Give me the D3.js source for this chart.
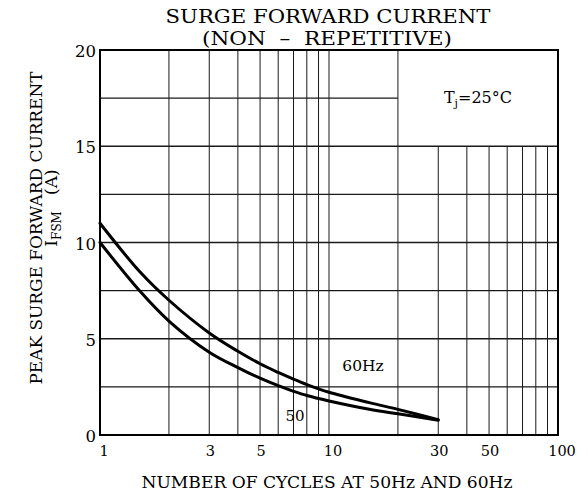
<!DOCTYPE html>
<html><head><meta charset="utf-8">
<script src="https://cdn.jsdelivr.net/npm/d3@7"></script>
<style>
body{margin:0;background:#fff}
text{font-family:"DejaVu Serif",serif;fill:#000}
</style>
</head><body><svg id="c" width="588" height="499"></svg>
<script>
// ---- data ----
const cycles      = [1, 1.5, 2, 3, 4, 5, 6, 7, 8, 10, 15, 20, 30];
const current60Hz = [11.0, 8.45, 7.0, 5.3, 4.35, 3.7, 3.25, 2.9, 2.62, 2.22, 1.68, 1.33, 0.8];
const current50Hz = [10.0, 7.45, 5.92, 4.3, 3.5, 2.95, 2.56, 2.27, 2.05, 1.77, 1.34, 1.1, 0.77];
const xTickValues = [1, 3, 5, 10, 30, 50, 100];
const yTickValues = [0, 5, 10, 15, 20];
const xGridValues = [2, 3, 4, 5, 6, 7, 8, 9, 10, 20, 30, 40, 50, 60, 70, 80, 90];
const yGridValues = [2.5, 5, 7.5, 10, 12.5, 15, 17.5];
const boxFrom = {x: 20, y: 15};   // note box region (data coords)
const titleLines = ["SURGE FORWARD CURRENT", "(NON  \u2013  REPETITIVE)"];
const xLabel = "NUMBER OF CYCLES AT 50Hz AND 60Hz";
const yLabel = "PEAK SURGE FORWARD CURRENT";

// ---- layout ----
const L = 100, R = 558, T = 50, B = 435;
const svg = d3.select("#c");
const x = d3.scaleLog().domain([1, 100]).range([L, R]);
const y = d3.scaleLinear().domain([0, 20]).range([B, T]);

// grid
const g = svg.append("g").attr("stroke", "#1a1a1a").attr("fill", "none");
g.selectAll("line.vx").data(xGridValues).join("line")
  .attr("stroke-width", 1)
  .attr("x1", d => x(d)).attr("x2", d => x(d))
  .attr("y1", y(0)).attr("y2", d => d > boxFrom.x ? y(boxFrom.y) : y(20));
g.selectAll("line.hy").data(yGridValues).join("line")
  .attr("stroke-width", 1.3)
  .attr("y1", d => y(d)).attr("y2", d => y(d))
  .attr("x1", x(1)).attr("x2", d => d > boxFrom.y ? x(boxFrom.x) : x(100));

// border
svg.append("rect").attr("x", L).attr("y", T).attr("width", R - L).attr("height", B - T)
  .attr("fill", "none").attr("stroke", "#000").attr("stroke-width", 2);

// curves
const line = d3.line().x(d => x(d[0])).y(d => y(d[1])).curve(d3.curveCatmullRom.alpha(0.5));
[current60Hz, current50Hz].forEach(vals => {
  svg.append("path").datum(cycles.map((c, i) => [c, vals[i]]))
    .attr("d", line).attr("fill", "none").attr("stroke", "#000")
    .attr("stroke-width", 3).attr("stroke-linecap", "round");
});

// tick labels
svg.append("g").selectAll("text").data(xTickValues).join("text")
  .attr("x", d => x(d) + (String(d)[0] === "1" ? 4 : 1)).attr("y", 456)
  .attr("text-anchor", "middle").attr("font-size", 14.5).text(d => d);
svg.append("g").selectAll("text").data(yTickValues).join("text")
  .attr("x", 96).attr("y", d => y(d) + 7)
  .attr("text-anchor", "end").attr("font-size", 16.5).text(d => d);

// title
svg.append("text").attr("x", 328).attr("y", 23).attr("text-anchor", "middle")
  .attr("font-size", 18).attr("textLength", 325).attr("lengthAdjust", "spacingAndGlyphs")
  .text(titleLines[0]);
svg.append("text").attr("x", 327).attr("y", 45).attr("text-anchor", "middle")
  .attr("font-size", 18).attr("textLength", 250).attr("lengthAdjust", "spacingAndGlyphs")
  .style("white-space", "pre").text(titleLines[1]);

// x label
svg.append("text").attr("x", 327).attr("y", 488).attr("text-anchor", "middle")
  .attr("font-size", 16).attr("textLength", 371).attr("lengthAdjust", "spacingAndGlyphs")
  .text(xLabel);

// y label
svg.append("text").attr("transform", "translate(42,228) rotate(-90)")
  .attr("text-anchor", "middle").attr("font-size", 17)
  .attr("textLength", 313).attr("lengthAdjust", "spacingAndGlyphs").text(yLabel);
const yl2 = svg.append("text").attr("transform", "translate(57,208) rotate(-90)")
  .attr("text-anchor", "middle").attr("font-size", 17).style("white-space", "pre");
yl2.append("tspan").text("I");
yl2.append("tspan").attr("font-size", 12).attr("dy", 4).text("FSM");
yl2.append("tspan").attr("dy", -4).text("   (A)");

// annotations
const tj = svg.append("text").attr("x", (x(boxFrom.x) + x(100)) / 2).attr("y", (y(boxFrom.y) + y(20)) / 2 + 5)
  .attr("text-anchor", "middle").attr("font-size", 16);
tj.append("tspan").text("T");
tj.append("tspan").attr("font-size", 11).attr("dy", 4).text("j");
tj.append("tspan").attr("dy", -4).text("=25\u00B0C");

svg.append("text").attr("x", 363).attr("y", 371).attr("text-anchor", "middle")
  .attr("font-size", 15.5).text("60Hz");
svg.append("text").attr("x", 295).attr("y", 421).attr("text-anchor", "middle")
  .attr("font-size", 15).text("50");
</script>
</body></html>
